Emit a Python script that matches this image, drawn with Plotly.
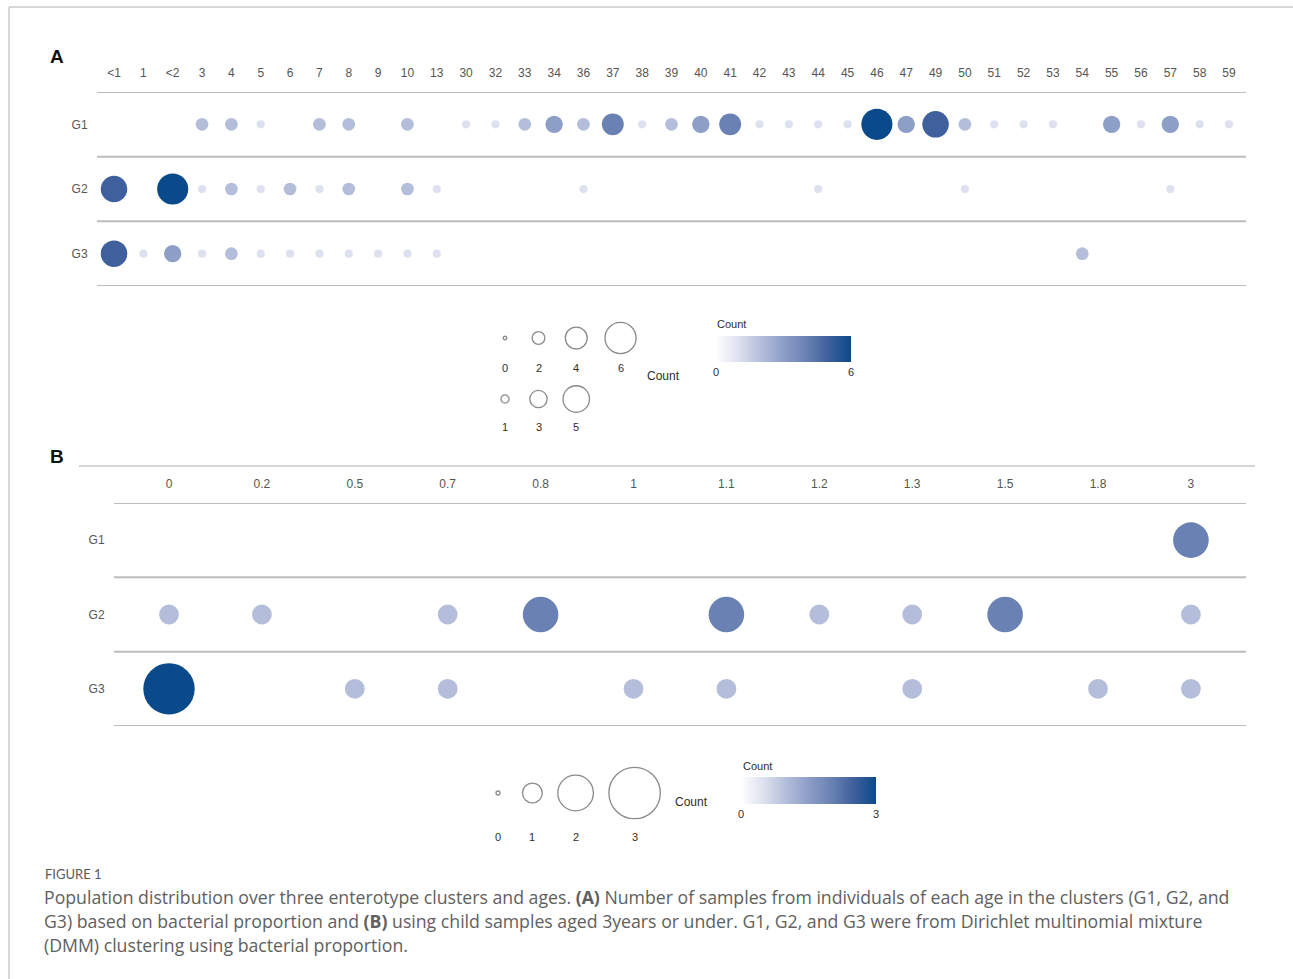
import plotly.graph_objects as go

# ---------------- data ----------------
clusters = ["G1", "G2", "G3"]

ages_a = ["<1", "1", "<2", "3", "4", "5", "6", "7", "8", "9", "10", "13",
          "30", "32", "33", "34", "36", "37", "38", "39", "40", "41", "42",
          "43", "44", "45", "46", "47", "49", "50", "51", "52", "53", "54",
          "55", "56", "57", "58", "59"]
g1_a = [0, 0, 0, 2, 2, 1, 0, 2, 2, 0, 2, 0,
        1, 1, 2, 3, 2, 4, 1, 2, 3, 4, 1,
        1, 1, 1, 6, 3, 5, 2, 1, 1, 1, 0,
        3, 1, 3, 1, 1]
g2_a = [5, 0, 6, 1, 2, 1, 2, 1, 2, 0, 2, 1,
        0, 0, 0, 0, 1, 0, 0, 0, 0, 0, 0,
        0, 1, 0, 0, 0, 0, 1, 0, 0, 0, 0,
        0, 0, 1, 0, 0]
g3_a = [5, 1, 3, 1, 2, 1, 1, 1, 1, 1, 1, 1,
        0, 0, 0, 0, 0, 0, 0, 0, 0, 0, 0,
        0, 0, 0, 0, 0, 0, 0, 0, 0, 0, 2,
        0, 0, 0, 0, 0]

ages_b = ["0", "0.2", "0.5", "0.7", "0.8", "1", "1.1", "1.2", "1.3", "1.5", "1.8", "3"]
g1_b = [0, 0, 0, 0, 0, 0, 0, 0, 0, 0, 0, 2]
g2_b = [1, 1, 0, 1, 2, 0, 2, 1, 1, 2, 0, 1]
g3_b = [3, 0, 1, 1, 0, 1, 1, 0, 1, 0, 1, 1]

size_legend_a_row1 = [0, 2, 4, 6]
size_legend_a_row2 = [1, 3, 5]
size_legend_b = [0, 1, 2, 3]

count_max_a = 6
count_max_b = 3

# ---------------- styling ----------------
W, H = 1293, 979
TICK_FONT = dict(family="Liberation Sans, Arial, sans-serif", size=12, color="#555555")
LEG_FONT = dict(family="Liberation Sans, Arial, sans-serif", size=11, color="#2e2e2e")
LINE_COLOR = "#bdbdbd"

COLORSCALE = [
    [0.0, "#ffffff"],
    [1 / 6, "#dde0ee"],
    [1 / 3, "#b4bedb"],
    [0.5, "#8d9ec7"],
    [2 / 3, "#6a82b3"],
    [5 / 6, "#3f609c"],
    [1.0, "#0b4a8a"],
]


def diam_a(c):
    return 3.5 + 4.6 * c


def diam_b(c):
    return 4.0 + 15.8 * c


def px_x(p):
    return p / W


def px_y(p):
    return 1 - p / H


def long_form(ages, rows):
    xs, ys, cs = [], [], []
    for cl, vals in zip(clusters, rows):
        for a, v in zip(ages, vals):
            if v > 0:
                xs.append(a)
                ys.append(cl)
                cs.append(v)
    return xs, ys, cs


def colorbar(cx, top, vmax, thickness):
    return dict(
        orientation="h", x=px_x(cx), xanchor="center",
        y=px_y(top), yanchor="top",
        lenmode="pixels", len=135, thickness=thickness,
        xpad=0, ypad=0, outlinewidth=0,
        tickvals=[0, vmax], ticks="", ticklen=2,
        tickfont=LEG_FONT,
    )


fig = go.Figure()

# ---------------- panel A ----------------
xa, ya, ca = long_form(ages_a, [g1_a, g2_a, g3_a])
fig.add_trace(go.Scatter(
    x=xa, y=ya, mode="markers", xaxis="x", yaxis="y",
    marker=dict(
        size=[diam_a(c) for c in ca], sizemode="diameter",
        color=ca, cmin=0, cmax=count_max_a, colorscale=COLORSCALE,
        line=dict(width=0), opacity=1,
        showscale=True, colorbar=colorbar(783.5, 336, count_max_a, 26),
    ),
    hoverinfo="x+y+text", text=[f"Count: {c}" for c in ca], showlegend=False,
))

# ---------------- panel B ----------------
xb, yb, cb = long_form(ages_b, [g1_b, g2_b, g3_b])
fig.add_trace(go.Scatter(
    x=xb, y=yb, mode="markers", xaxis="x2", yaxis="y2",
    marker=dict(
        size=[diam_b(c) for c in cb], sizemode="diameter",
        color=cb, cmin=0, cmax=count_max_b, colorscale=COLORSCALE,
        line=dict(width=0), opacity=1,
        showscale=True, colorbar=colorbar(808.5, 777, count_max_b, 27),
    ),
    hoverinfo="x+y+text", text=[f"Count: {c}" for c in cb], showlegend=False,
))

# ---------------- size legends (drawn on a page-sized overlay axis) ----------------
annotations = []
MIN_KEY = 18
KEY_GAP = 15.5


def legend_columns(x0, col_diams):
    widths = [max(d, MIN_KEY) for d in col_diams]
    xs = [x0]
    for i in range(1, len(widths)):
        xs.append(xs[-1] + widths[i - 1] / 2 + KEY_GAP + widths[i] / 2)
    return xs


# panel A: two rows, columns hold (0,1), (2,3), (4,5), (6)
cols_a = [[0, 1], [2, 3], [4, 5], [6]]
col_d_a = [max(diam_a(v) for v in col) for col in cols_a]
col_x_a = legend_columns(505, col_d_a)
row_y_a = [338, 399]
label_y_a = [368, 427]
lx, ly, ls = [], [], []
for r, row in enumerate([size_legend_a_row1, size_legend_a_row2]):
    for v in row:
        ci = [i for i, col in enumerate(cols_a) if v in col][0]
        lx.append(col_x_a[ci])
        ly.append(row_y_a[r])
        ls.append(diam_a(v))
        annotations.append(dict(x=col_x_a[ci], y=label_y_a[r], xref="x3", yref="y3",
                                text=str(v), showarrow=False, font=LEG_FONT))
fig.add_trace(go.Scatter(
    x=lx, y=ly, mode="markers", xaxis="x3", yaxis="y3",
    marker=dict(size=ls, sizemode="diameter", color="white", opacity=1,
                line=dict(color="#8a8a8a", width=1.3)),
    hoverinfo="skip", showlegend=False,
))
annotations.append(dict(x=663, y=376, xref="x3", yref="y3", text="Count",
                        showarrow=False, font=dict(LEG_FONT, size=12)))
annotations.append(dict(x=715, y=324, xref="x3", yref="y3", text="Count", xanchor="left",
                        showarrow=False, font=LEG_FONT))

# panel B: a single row
col_d_b = [diam_b(v) for v in size_legend_b]
col_x_b = legend_columns(498, col_d_b)
fig.add_trace(go.Scatter(
    x=col_x_b, y=[793] * len(size_legend_b), mode="markers", xaxis="x3", yaxis="y3",
    marker=dict(size=col_d_b, sizemode="diameter", color="white", opacity=1,
                line=dict(color="#8a8a8a", width=1.3)),
    hoverinfo="skip", showlegend=False,
))
for xv, v in zip(col_x_b, size_legend_b):
    annotations.append(dict(x=xv, y=837, xref="x3", yref="y3", text=str(v),
                            showarrow=False, font=LEG_FONT))
annotations.append(dict(x=691, y=802, xref="x3", yref="y3", text="Count",
                        showarrow=False, font=dict(LEG_FONT, size=12)))
annotations.append(dict(x=741, y=766, xref="x3", yref="y3", text="Count", xanchor="left",
                        showarrow=False, font=LEG_FONT))

# ---------------- panel letters and caption ----------------
panel_font = dict(family="Liberation Sans, Arial, sans-serif", size=19, color="#111111")
annotations.append(dict(x=57, y=56, xref="x3", yref="y3", text="<b>A</b>",
                        showarrow=False, font=panel_font))
annotations.append(dict(x=57, y=456, xref="x3", yref="y3", text="<b>B</b>",
                        showarrow=False, font=panel_font))

cap_font = dict(family="Open Sans, Lato, sans-serif", size=17.7, color="#606060")
annotations.append(dict(x=43, y=874, xref="x3", yref="y3", xanchor="left",
                        text="FIGURE 1", showarrow=False,
                        font=dict(family="Lato, sans-serif", size=13, color="#5a5a5a")))
caption_lines = [
    "Population distribution over three enterotype clusters and ages. <b>(A)</b> Number of samples "
    "from individuals of each age in the clusters (G1, G2, and",
    "G3) based on bacterial proportion and <b>(B)</b> using child samples aged 3years or under. "
    "G1, G2, and G3 were from Dirichlet multinomial mixture",
    "(DMM) clustering using bacterial proportion.",
]
for i, line in enumerate(caption_lines):
    annotations.append(dict(x=42, y=897 + 24 * i, xref="x3", yref="y3", xanchor="left",
                            text=line, showarrow=False, font=cap_font))

# ---------------- row separators and frame ----------------
shapes = []
for yv in [-0.5, 0.5, 1.5, 2.5]:
    shapes.append(dict(type="line", xref="x domain", yref="y", x0=0, x1=1, y0=yv, y1=yv,
                       line=dict(color=LINE_COLOR, width=2)))
    shapes.append(dict(type="line", xref="x2 domain", yref="y2", x0=0, x1=1, y0=yv, y1=yv,
                       line=dict(color=LINE_COLOR, width=2)))
shapes.append(dict(type="line", xref="x3", yref="y3", x0=79, x1=1255, y0=466, y1=466,
                   line=dict(color="#c8c8c8", width=1.5)))
shapes.append(dict(type="line", xref="x3", yref="y3", x0=9, x1=W, y0=7, y1=7,
                   line=dict(color="#b0b0b0", width=1)))
shapes.append(dict(type="line", xref="x3", yref="y3", x0=9, x1=9, y0=7, y1=H,
                   line=dict(color="#b0b0b0", width=1)))

# ---------------- axes ----------------
common_x = dict(type="category", side="top", showgrid=False, zeroline=False, showline=False,
                ticks="outside", tickcolor="rgba(0,0,0,0)", tickfont=TICK_FONT,
                fixedrange=True)
common_y = dict(type="category", categoryorder="array", categoryarray=clusters,
                showgrid=False, zeroline=False, showline=False, ticks="outside",
                tickcolor="rgba(0,0,0,0)", ticklen=6, tickfont=TICK_FONT, fixedrange=True)

fig.update_layout(
    width=W, height=H, autosize=False,
    margin=dict(l=0, r=0, t=0, b=0),
    paper_bgcolor="white", plot_bgcolor="rgba(0,0,0,0)",
    xaxis=dict(common_x, domain=[px_x(97), px_x(1246)], anchor="y",
               categoryorder="array", categoryarray=ages_a,
               range=[-0.58, 38.58], ticklen=9),
    yaxis=dict(common_y, domain=[px_y(286), px_y(92)], anchor="x", range=[2.5, -0.5]),
    xaxis2=dict(common_x, domain=[px_x(114), px_x(1246)], anchor="y2",
                categoryorder="array", categoryarray=ages_b,
                range=[-0.592, 11.593], ticklen=9),
    yaxis2=dict(common_y, domain=[px_y(726), px_y(503)], anchor="x2", range=[2.5, -0.5]),
    xaxis3=dict(domain=[0, 1], range=[0, W], visible=False, anchor="y3", fixedrange=True),
    yaxis3=dict(domain=[0, 1], range=[H, 0], visible=False, anchor="x3", fixedrange=True),
    annotations=annotations,
    shapes=shapes,
)

fig.write_html("out.html")
